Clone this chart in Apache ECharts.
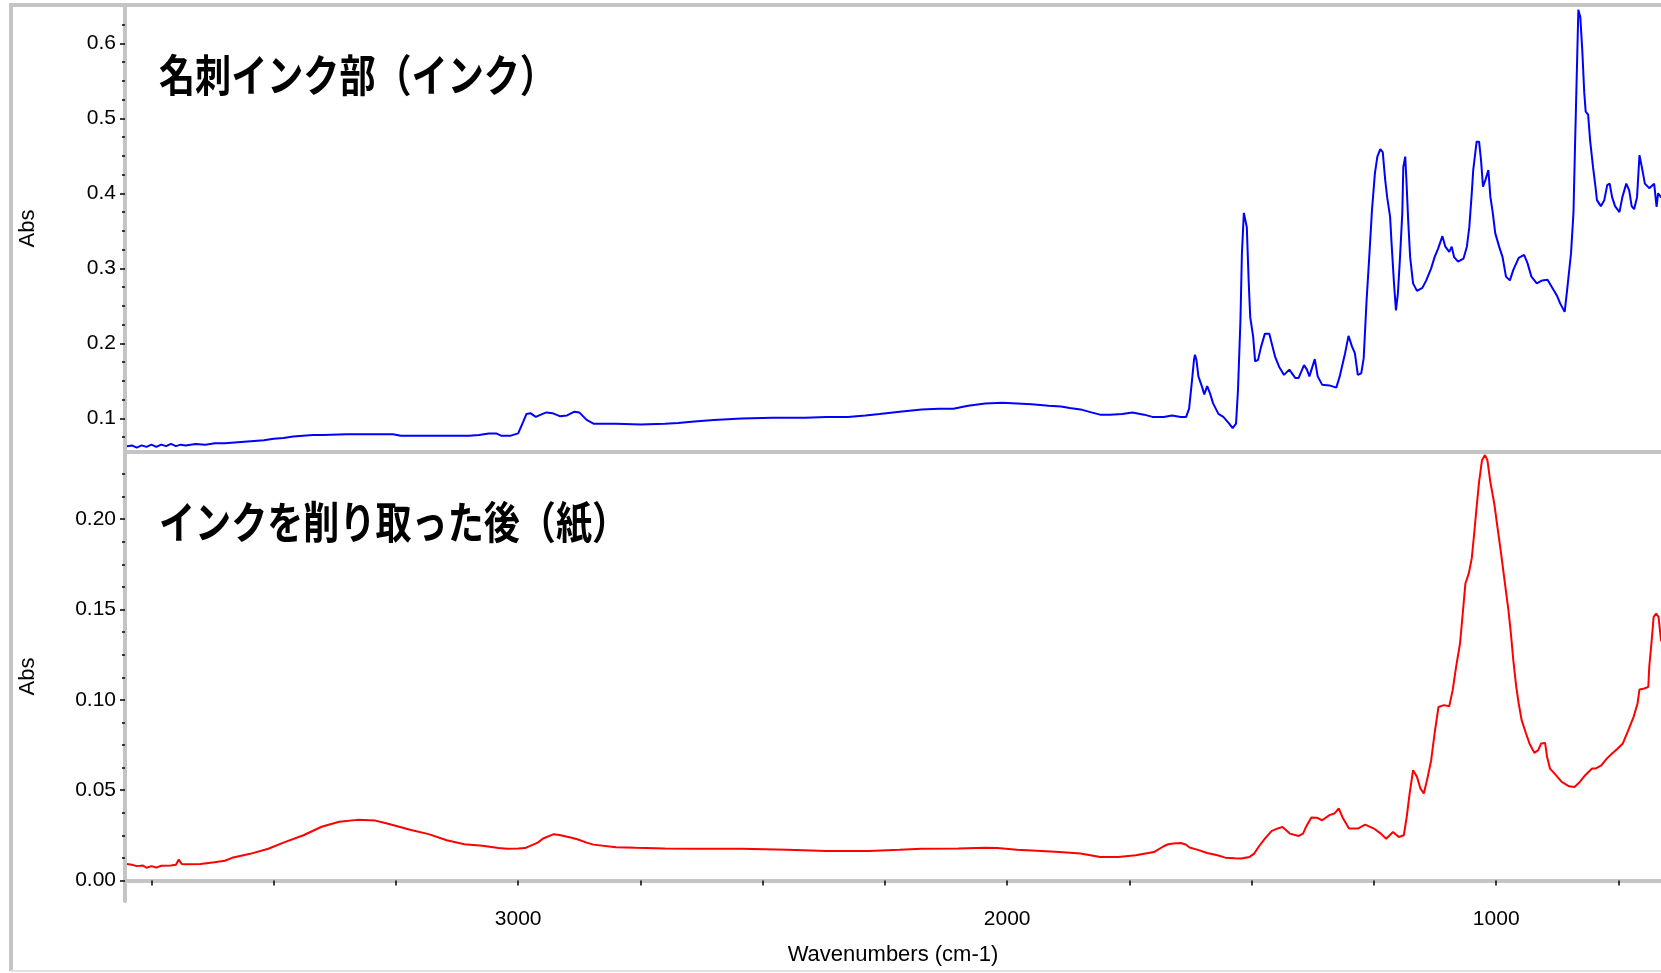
<!DOCTYPE html>
<html>
<head>
<meta charset="utf-8">
<style>
  html, body { margin: 0; padding: 0; background: #ffffff; }
  #chart { width: 1661px; height: 973px; }
</style>
<script src="https://cdn.jsdelivr.net/npm/echarts@6/dist/echarts.min.js"></script>
</head>
<body>
<div id="chart"></div>
<script>
// FT-IR absorbance spectra: business-card ink area vs. paper after the ink was scraped off

// Ink spectrum (blue)
const inkWavenumbers = [
  3800, 3790, 3780, 3770, 3760, 3750, 3740, 3730, 3720, 3710, 3700, 3690, 3680, 3660, 3640, 3620,
  3600, 3580, 3560, 3540, 3520, 3500, 3480, 3460, 3440, 3420, 3400, 3350, 3300, 3256, 3240, 3200,
  3150, 3100, 3080, 3060, 3045, 3035, 3015, 3000, 2990, 2983, 2975, 2964, 2950, 2942, 2930, 2915,
  2900, 2885, 2875, 2860, 2846, 2800, 2750, 2700, 2673, 2640, 2600, 2543, 2480, 2413, 2370, 2326,
  2290, 2261, 2220, 2175, 2140, 2110, 2080, 2045, 2010, 1980, 1950, 1915, 1890, 1872, 1850, 1828,
  1810, 1790, 1765, 1744, 1720, 1703, 1680, 1663, 1645, 1634, 1628, 1622, 1618, 1616, 1613, 1609,
  1601, 1597, 1591, 1585, 1579, 1568, 1558, 1546, 1539, 1532, 1528, 1523, 1520, 1516, 1510, 1506,
  1503, 1497, 1493, 1487, 1481, 1473, 1464, 1459, 1452, 1444, 1434, 1423, 1411, 1404, 1393, 1387,
  1382, 1371, 1365, 1356, 1341, 1327, 1320, 1309, 1302, 1295, 1289, 1283, 1276, 1271, 1265, 1260,
  1254, 1248, 1243, 1237, 1232, 1227, 1223, 1217, 1214, 1209, 1205, 1201, 1197, 1192, 1190, 1186,
  1183, 1180, 1176, 1170, 1162, 1151, 1143, 1133, 1126, 1119, 1110, 1104, 1096, 1091, 1086, 1078,
  1067, 1060, 1055, 1050, 1047, 1040, 1035, 1031, 1027, 1022, 1016, 1012, 1007, 1002, 994, 987,
  980, 972, 965, 954, 943, 936, 928, 917, 906, 895, 886, 876, 869, 860, 855, 847,
  842, 839, 835, 832, 828, 824, 820, 817, 812, 808, 802, 797, 794, 786, 779, 773,
  768, 763, 757, 748, 742, 734, 728, 723, 718, 712, 707, 701, 696, 687, 677, 672,
  669, 663, 650
];
const inkAbsorbance = [
  0.063, 0.064, 0.061, 0.064, 0.062, 0.065, 0.062, 0.065, 0.063, 0.066, 0.063, 0.065, 0.064, 0.066, 0.065, 0.067,
  0.067, 0.068, 0.069, 0.070, 0.071, 0.073, 0.074, 0.076, 0.077, 0.078, 0.078, 0.079, 0.079, 0.079, 0.077, 0.077,
  0.077, 0.077, 0.078, 0.080, 0.080, 0.077, 0.077, 0.080, 0.095, 0.106, 0.107, 0.102, 0.106, 0.108, 0.107, 0.103,
  0.104, 0.109, 0.108, 0.098, 0.093, 0.093, 0.092, 0.093, 0.094, 0.096, 0.098, 0.100, 0.101, 0.101, 0.102, 0.102,
  0.104, 0.106, 0.109, 0.112, 0.113, 0.113, 0.117, 0.120, 0.121, 0.120, 0.119, 0.117, 0.116, 0.114, 0.112, 0.108,
  0.105, 0.105, 0.106, 0.108, 0.105, 0.102, 0.102, 0.104, 0.102, 0.102, 0.113, 0.151, 0.178, 0.185, 0.178, 0.156,
  0.141, 0.132, 0.143, 0.133, 0.120, 0.106, 0.102, 0.093, 0.087, 0.093, 0.138, 0.231, 0.320, 0.374, 0.355, 0.280,
  0.235, 0.209, 0.176, 0.178, 0.195, 0.213, 0.213, 0.200, 0.182, 0.169, 0.158, 0.165, 0.154, 0.154, 0.171, 0.165,
  0.156, 0.179, 0.156, 0.145, 0.144, 0.141, 0.156, 0.187, 0.210, 0.196, 0.187, 0.158, 0.160, 0.180, 0.258, 0.311,
  0.378, 0.427, 0.449, 0.459, 0.455, 0.418, 0.395, 0.369, 0.334, 0.280, 0.244, 0.267, 0.311, 0.374, 0.435, 0.449,
  0.409, 0.364, 0.315, 0.280, 0.270, 0.274, 0.284, 0.300, 0.315, 0.326, 0.343, 0.329, 0.322, 0.329, 0.315, 0.309,
  0.313, 0.329, 0.355, 0.400, 0.431, 0.469, 0.469, 0.444, 0.409, 0.418, 0.431, 0.396, 0.374, 0.347, 0.329, 0.315,
  0.289, 0.284, 0.298, 0.314, 0.318, 0.307, 0.289, 0.280, 0.284, 0.285, 0.275, 0.264, 0.253, 0.242, 0.271, 0.320,
  0.374, 0.458, 0.565, 0.645, 0.635, 0.591, 0.535, 0.509, 0.505, 0.471, 0.435, 0.409, 0.391, 0.383, 0.391, 0.411,
  0.413, 0.395, 0.383, 0.375, 0.395, 0.413, 0.404, 0.383, 0.379, 0.395, 0.451, 0.431, 0.413, 0.407, 0.413, 0.382,
  0.400, 0.395, 0.392
];

// Paper spectrum after removing the ink (red)
const paperWavenumbers = [
  3800, 3790, 3780, 3767, 3760, 3750, 3740, 3730, 3710, 3700, 3694, 3688, 3680, 3650, 3621, 3600,
  3585, 3548, 3511, 3476, 3439, 3402, 3366, 3329, 3292, 3270, 3219, 3183, 3146, 3110, 3073, 3040,
  3022, 3000, 2986, 2960, 2949, 2927, 2916, 2895, 2879, 2860, 2846, 2800, 2760, 2700, 2640, 2543,
  2450, 2370, 2283, 2220, 2175, 2100, 2045, 2020, 1980, 1940, 1893, 1850, 1810, 1773, 1737, 1700,
  1680, 1671, 1660, 1645, 1635, 1627, 1610, 1591, 1570, 1554, 1535, 1521, 1505, 1495, 1485, 1473,
  1459, 1445, 1437, 1422, 1404, 1395, 1389, 1378, 1367, 1356, 1341, 1331, 1322, 1313, 1301, 1283,
  1268, 1250, 1236, 1225, 1211, 1199, 1189, 1183, 1177, 1170, 1162, 1155, 1148, 1140, 1133, 1126,
  1118, 1107, 1096, 1089, 1082, 1074, 1069, 1063, 1056, 1050, 1045, 1040, 1035, 1029, 1023, 1018,
  1012, 1004, 998, 990, 983, 975, 970, 965, 959, 954, 948, 939, 932, 922, 914, 908,
  900, 896, 890, 881, 866, 851, 840, 829, 818, 804, 797, 785, 774, 763, 752, 741,
  730, 719, 711, 707, 697, 689, 687, 682, 678, 673, 668, 663, 650
];
const paperAbsorbance = [
  0.0092, 0.0088, 0.0080, 0.0083, 0.0071, 0.0080, 0.0072, 0.0082, 0.0083, 0.0088, 0.0116, 0.0092, 0.0090, 0.0092, 0.0101, 0.0110,
  0.0126, 0.0148, 0.0176, 0.0214, 0.0251, 0.0298, 0.0326, 0.0336, 0.0332, 0.0317, 0.0280, 0.0257, 0.0223, 0.0201, 0.0193, 0.0180,
  0.0176, 0.0178, 0.0180, 0.0210, 0.0233, 0.0257, 0.0252, 0.0240, 0.0229, 0.0210, 0.0199, 0.0185, 0.0182, 0.0178, 0.0176, 0.0176,
  0.0170, 0.0164, 0.0164, 0.0170, 0.0176, 0.0178, 0.0182, 0.0180, 0.0170, 0.0165, 0.0158, 0.0150, 0.0131, 0.0131, 0.0140, 0.0158,
  0.0190, 0.0201, 0.0205, 0.0208, 0.0200, 0.0183, 0.0170, 0.0153, 0.0140, 0.0127, 0.0123, 0.0122, 0.0130, 0.0149, 0.0190, 0.0232,
  0.0275, 0.0290, 0.0297, 0.0260, 0.0247, 0.0260, 0.0297, 0.0349, 0.0348, 0.0334, 0.0362, 0.0371, 0.0399, 0.0343, 0.0288, 0.0288,
  0.0310, 0.0288, 0.0260, 0.0232, 0.0269, 0.0241, 0.0251, 0.0352, 0.0482, 0.0611, 0.0574, 0.0510, 0.0482, 0.0574, 0.0666, 0.0814,
  0.0961, 0.0971, 0.0965, 0.1054, 0.1183, 0.1312, 0.1460, 0.1644, 0.1700, 0.1783, 0.1921, 0.2069, 0.2207, 0.2327, 0.2355, 0.2327,
  0.2207, 0.2087, 0.1967, 0.1810, 0.1663, 0.1497, 0.1368, 0.1220, 0.1072, 0.0980, 0.0888, 0.0814, 0.0759, 0.0707, 0.0722, 0.0759,
  0.0762, 0.0685, 0.0620, 0.0593, 0.0546, 0.0522, 0.0518, 0.0546, 0.0583, 0.0620, 0.0620, 0.0638, 0.0675, 0.0703, 0.0730, 0.0759,
  0.0832, 0.0906, 0.0980, 0.1058, 0.1063, 0.1072, 0.1183, 0.1330, 0.1460, 0.1478, 0.1460, 0.1330, 0.1280
];

// Axis ticks and labels
const xTickValues = [3750, 3500, 3250, 3000, 2750, 2500, 2250, 2000, 1750, 1500, 1250, 1000, 750];
const xLabelValues = [3000, 2000, 1000];
const inkMajorTicks = [0.1, 0.2, 0.3, 0.4, 0.5, 0.6];
const inkMinorTicks = [0.075, 0.125, 0.15, 0.175, 0.225, 0.25, 0.275, 0.325, 0.35, 0.375,
                       0.425, 0.45, 0.475, 0.525, 0.55, 0.575, 0.625];
const paperMajorTicks = [0, 0.05, 0.1, 0.15, 0.2];
const paperMinorTicks = [0.0125, 0.025, 0.0375, 0.0625, 0.075, 0.0875, 0.1125, 0.125, 0.1375,
                         0.1625, 0.175, 0.1875, 0.2125, 0.225];

const panelTitles = ['名刺インク部（インク）', 'インクを削り取った後（紙）'];
const xAxisTitle = 'Wavenumbers (cm-1)';
const yAxisTitle = 'Abs';

const zip = (xs, ys) => xs.map((x, i) => [x, ys[i]]);

const FRAME = '#c4c4c4';
const LABEL_FONT = 'Liberation Sans';
const frameLine = { show: true, lineStyle: { color: FRAME, width: 4 } };

const xRange = { min: 663, max: 3804 };

function majorYAxis(gridIndex, range, ticks, digits) {
  return {
    type: 'value', gridIndex: gridIndex, position: 'left',
    min: range[0], max: range[1],
    axisLine: frameLine,
    splitLine: { show: false },
    axisTick: { show: true, length: 5, customValues: ticks, lineStyle: { color: '#000', width: 1.5 } },
    axisLabel: {
      show: true, customValues: ticks, margin: 9,
      fontFamily: LABEL_FONT, fontSize: 21, color: '#000',
      formatter: v => Number(v).toFixed(digits)
    },
    name: yAxisTitle,
    nameLocation: 'middle', nameGap: 86,
    nameTextStyle: { fontFamily: LABEL_FONT, fontSize: 22, color: '#000' }
  };
}

function minorYAxis(gridIndex, range, ticks) {
  return {
    type: 'value', gridIndex: gridIndex, position: 'left',
    min: range[0], max: range[1],
    axisLine: { show: false },
    splitLine: { show: false },
    axisTick: { show: true, length: 3, customValues: ticks, lineStyle: { color: '#000', width: 1.5 } },
    axisLabel: { show: false }
  };
}

const chart = echarts.init(document.getElementById('chart'), null, { renderer: 'canvas' });

chart.setOption({
  animation: false,
  backgroundColor: '#ffffff',
  textStyle: { fontFamily: LABEL_FONT },
  grid: [
    { left: 125, right: 0, top: 5, height: 447, show: false },
    { left: 125, right: 0, top: 452, height: 449, show: false }
  ],
  xAxis: [
    {
      type: 'value', gridIndex: 0, inverse: true, min: xRange.min, max: xRange.max,
      position: 'bottom',
      axisLine: frameLine, axisTick: { show: false }, axisLabel: { show: false }, splitLine: { show: false }
    },
    {
      type: 'value', gridIndex: 1, inverse: true, min: xRange.min, max: xRange.max,
      position: 'bottom',
      axisLine: frameLine,
      splitLine: { show: false },
      axisTick: { show: true, length: 5, customValues: xTickValues, lineStyle: { color: '#000', width: 1.5 } },
      axisLabel: {
        show: true, customValues: xLabelValues, margin: 8,
        fontFamily: LABEL_FONT, fontSize: 21, color: '#000',
        formatter: v => String(v)
      },
      name: xAxisTitle, nameLocation: 'middle', nameGap: 43,
      nameTextStyle: { fontFamily: LABEL_FONT, fontSize: 22, color: '#000' }
    }
  ],
  yAxis: [
    majorYAxis(0, [0.0552, 0.6512], inkMajorTicks, 1),
    minorYAxis(0, [0.0552, 0.6512], inkMinorTicks),
    majorYAxis(1, [-0.0113, 0.2372], paperMajorTicks, 2),
    minorYAxis(1, [-0.0113, 0.2372], paperMinorTicks)
  ],
  series: [
    {
      name: panelTitles[0], type: 'line', xAxisIndex: 0, yAxisIndex: 0,
      data: zip(inkWavenumbers, inkAbsorbance),
      showSymbol: false, clip: true,
      lineStyle: { color: '#0000ff', width: 2 }
    },
    {
      name: panelTitles[1], type: 'line', xAxisIndex: 1, yAxisIndex: 2,
      data: zip(paperWavenumbers, paperAbsorbance),
      showSymbol: false, clip: true,
      lineStyle: { color: '#ff0000', width: 2 }
    }
  ],
  graphic: [
    // window frame
    { type: 'line', shape: { x1: 11, y1: 5, x2: 11, y2: 971 }, style: { stroke: FRAME, lineWidth: 4 }, z: 1 },
    { type: 'line', shape: { x1: 9, y1: 5, x2: 1661, y2: 5 }, style: { stroke: FRAME, lineWidth: 4 }, z: 1 },
    { type: 'line', shape: { x1: 11, y1: 971, x2: 1661, y2: 971 }, style: { stroke: '#e2e2e2', lineWidth: 2 }, z: 1 },
    // panel captions
    {
      type: 'text', x: 159, y: 75, scaleX: 0.82, z: 10,
      style: { text: panelTitles[0], fontFamily: 'Noto Sans CJK JP', fontWeight: 'bold', fontSize: 44, fill: '#000', verticalAlign: 'middle' }
    },
    {
      type: 'text', x: 159, y: 522, scaleX: 0.82, z: 10,
      style: { text: panelTitles[1], fontFamily: 'Noto Sans CJK JP', fontWeight: 'bold', fontSize: 44, fill: '#000', verticalAlign: 'middle' }
    }
  ]
});
</script>
</body>
</html>
